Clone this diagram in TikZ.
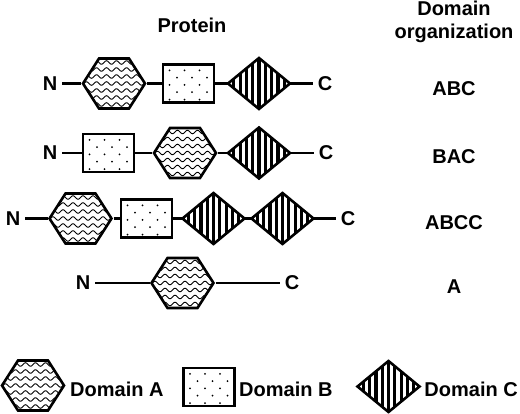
\documentclass[tikz,border=0pt]{standalone}
\usepackage{fontspec}
\setmainfont{Liberation Sans}
\usetikzlibrary{shapes.geometric}
\begin{document}
\begin{tikzpicture}[x=1pt,y=-1pt,
    txt/.style={font=\fontsize{20}{23}\selectfont\bfseries, inner sep=0pt},
    term/.style={txt, outer sep=5pt},
    conn/.style={line width=2.6pt},
    dom/.style={draw, line width=2.6pt, fill=white, inner sep=0pt, outer sep=0pt},
    doma/.style={rectangle, inner sep=0pt, outer sep=0pt, minimum width=66pt, minimum height=54pt,
      path picture={
        \begin{scope}[shift={(path picture bounding box.center)}]
          \fill[white] (-31pt,0pt) -- (-15pt,-25pt) -- (15pt,-25pt) -- (31pt,0pt)
            -- (15pt,25pt) -- (-15pt,25pt) -- cycle;
          \begin{scope}
            \clip (-31pt,0pt) -- (-15pt,-25pt) -- (15pt,-25pt) -- (31pt,0pt)
              -- (15pt,25pt) -- (-15pt,25pt) -- cycle;
            \foreach \w in {-21,-14,...,21}
              \draw[black, line width=0.9pt] plot[variable=\t, domain=-34:34, samples=60, smooth]
                ({\t*1pt},{\w*1pt+1.8pt*sin(36*\t)});
          \end{scope}
          \draw[black, line width=2.6pt, line join=miter] (-31pt,0pt) -- (-15pt,-25pt)
            -- (15pt,-25pt) -- (31pt,0pt) -- (15pt,25pt) -- (-15pt,25pt) -- cycle;
        \end{scope}}},
    domb/.style={dom, rectangle, minimum width=51pt, minimum height=38pt,
      path picture={
        \begin{scope}[shift={(path picture bounding box.center)}]
          \foreach \r in {0,...,4}
            \foreach \c in {0,1,2}
              \fill[black] ({(-19+15*\c+7.5*mod(\r,2))*1pt},{(-16+7.3*\r)*1pt}) circle (1pt);
        \end{scope}}},
    domc/.style={dom, diamond, minimum width=62pt, minimum height=51pt,
      path picture={
        \begin{scope}[shift={(path picture bounding box.center)}]
          \foreach \s in {-5,...,5}
            \fill[black] ({(\s*6.3-1.6)*1pt},-30pt) rectangle ++(3.2pt,60pt);
        \end{scope}}}]
  \useasboundingbox (0,0) rectangle (520,413);

  \node[txt] (protein) at (192,25) {Protein};
  \node[txt, align=center] (orghead) at (454,22) {Domain\\organization};

  \node[term] (nt1) at (50,83.5) {N};
  \node[doma] (a1) at (114,83.5) {};
  \node[domb] (b1) at (188.5,83.5) {};
  \node[domc] (c1) at (259,83.5) {};
  \node[term] (ct1) at (325,83.5) {C};
  \node[txt] (org1) at (454,89) {ABC};

  \node[term] (nt2) at (50,153) {N};
  \node[domb] (b2) at (108.5,153) {};
  \node[doma] (a2) at (185,153) {};
  \node[domc] (c2) at (259,153) {};
  \node[term] (ct2) at (326,153) {C};
  \node[txt] (org2) at (454,157) {BAC};

  \node[term] (nt3) at (13,218.5) {N};
  \node[doma] (a3) at (80.5,218.5) {};
  \node[domb] (b3) at (146.5,218.5) {};
  \node[domc] (c3) at (213.5,218.5) {};
  \node[domc] (d3) at (282.5,218.5) {};
  \node[term] (ct3) at (348,218.5) {C};
  \node[txt] (org3) at (454,223) {ABCC};

  \node[term] (nt4) at (83,283) {N};
  \node[doma] (a4) at (182.5,283) {};
  \node[term] (ct4) at (292,283) {C};
  \node[txt] (org4) at (454,287) {A};

  \foreach \p/\q in {nt1/a1,a1/b1,b1/c1,c1/ct1,
                     nt2/b2,b2/a2,a2/c2,c2/ct2,
                     nt3/a3,a3/b3,b3/c3,c3/d3,d3/ct3,
                     nt4/a4,a4/ct4}
    \draw[conn] (\p) -- (\q);

  \node[doma] (keya) at (33,385.5) {};
  \node[txt, anchor=west] (keyatxt) at (70,389) {Domain A};
  \node[domb] (keyb) at (209,387) {};
  \node[txt, anchor=west] (keybtxt) at (239,389) {Domain B};
  \node[domc] (keyc) at (388.5,386.5) {};
  \node[txt, anchor=east] (keyctxt) at (518,389) {Domain C};
\end{tikzpicture}
\end{document}
